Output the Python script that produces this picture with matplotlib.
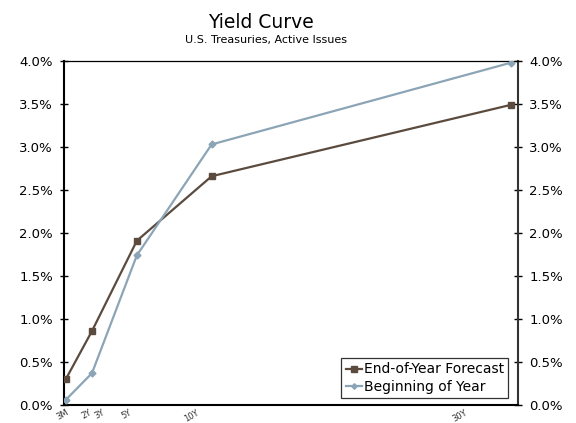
import numpy as np
import matplotlib.pyplot as plt
from matplotlib.ticker import FuncFormatter

# Maturities (years) and yields (%) for the active Treasury issues
tenors = ['3M', '2Y', '3Y', '5Y', '10Y', '30Y']
tenor_years = [0.25, 2, 3, 5, 10, 30]
curve_years = [0.25, 2, 5, 10, 30]
forecast = [0.30, 0.86, 1.91, 2.66, 3.49]
beginning = [0.06, 0.37, 1.74, 3.03, 3.98]

BROWN = '#5b4b3f'
STEEL = '#8ca5b6'

plt.rcParams['font.family'] = 'DejaVu Sans'

fig = plt.figure(figsize=(5.76, 4.23), dpi=100)
ax = fig.add_axes([64 / 576, 1 - 405 / 423, (518 - 64) / 576, (405 - 61) / 423])

ax.plot(curve_years, forecast, color=BROWN, lw=1.6, marker='s', ms=5,
        label='End-of-Year Forecast', zorder=3)
ax.plot(curve_years, beginning, color=STEEL, lw=1.6, marker='D', ms=3.5,
        label='Beginning of Year', zorder=3)

ax.set_xlim(0.13, 30.48)
ax.set_ylim(0, 4.0)
ax.set_yticks(np.arange(0, 4.01, 0.5))
ax.yaxis.set_major_formatter(FuncFormatter(lambda v, p: f'{v:.1f}%'))
ax.set_xticks([])

ax.tick_params(axis='y', direction='inout', length=6, width=1, labelsize=9.5,
               right=True, labelright=True, pad=5)

for side in ['left', 'bottom']:
    ax.spines[side].set_linewidth(1.5)
    ax.spines[side].set_color('black')
ax.spines['top'].set_linewidth(0.9)
ax.spines['right'].set_linewidth(1.5)
ax.spines['right'].set_color('#333333')

# separate category axis carrying the maturity labels
lab = ax.twiny()
lab.set_xlim(0.15, 34.0)
lab.xaxis.set_ticks_position('bottom')
lab.set_xticks(tenor_years)
lab.set_xticklabels(tenors, rotation=30, ha='right', va='top',
                    rotation_mode='anchor', fontsize=6, color='#333333')
lab.tick_params(axis='x', length=0, pad=2)
for s in lab.spines.values():
    s.set_visible(False)

leg = ax.legend(loc='lower right', bbox_to_anchor=(0.978, 0.02), fontsize=10,
                handlelength=1.2, handletextpad=0.1, borderpad=0.3,
                labelspacing=0.25, borderaxespad=0, fancybox=False,
                framealpha=1, edgecolor='#333333', markerscale=0.8)
leg.get_frame().set_linewidth(0.9)

fig.text(261 / 576, 1 - 22 / 423, 'Yield Curve', ha='center', va='center', fontsize=13.5)
fig.text(266 / 576, 1 - 40 / 423, 'U.S. Treasuries, Active Issues', ha='center',
         va='center', fontsize=8)

fig.savefig('out.png', dpi=100)
